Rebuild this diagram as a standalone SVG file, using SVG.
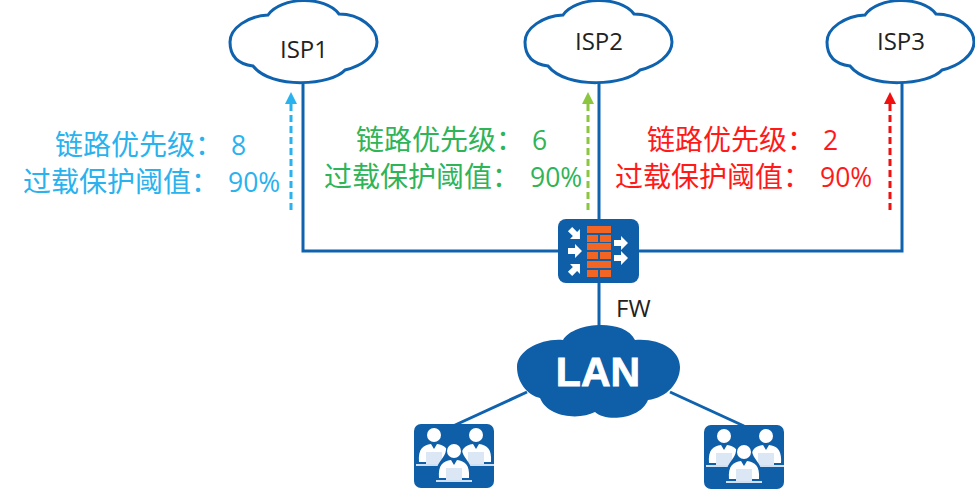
<svg xmlns="http://www.w3.org/2000/svg" xmlns:xlink="http://www.w3.org/1999/xlink" width="975" height="490" viewBox="0 0 975 490">
<style>
text{font-family:"Noto Sans CJK SC","Noto Sans",sans-serif}
.isp{font-size:24px;fill:#222;text-anchor:middle;font-family:"Open Sans","Liberation Sans",sans-serif}
.cap{font-size:28px}
.val{font-family:"Open Sans","Liberation Sans",sans-serif;font-size:26.5px}
.blue{fill:#29b2ee}.green{fill:#2fb457}.red{fill:#ff1a1a}
.link{fill:none;stroke:#0f62ae;stroke-width:3}
.dash{fill:none;stroke-width:3;stroke-dasharray:7 4}
.cloud{fill:#fff;stroke:#0f62ae;stroke-width:3}
.w{fill:#fff}.br{fill:#f26522}
.box{fill:#0f5ea8}
</style>
<defs>
<path id="cloud" class="cloud" d="M48,15C60,-3 105,-5 119,14C140,14 157,28 157,42C157,55 142,66 125,70C112,85 52,90 33,66C17,64 10,55 10,42C10,28 28,16 48,15Z"/>
<marker id="aB" markerWidth="12" markerHeight="12" refX="5" refY="5" orient="auto" markerUnits="userSpaceOnUse" viewBox="0 0 10 10"><path d="M0,0L10,5L0,10Z" fill="#29b2ee"/></marker>
<marker id="aG" markerWidth="12" markerHeight="12" refX="5" refY="5" orient="auto" markerUnits="userSpaceOnUse" viewBox="0 0 10 10"><path d="M0,0L10,5L0,10Z" fill="#8cc63f"/></marker>
<marker id="aR" markerWidth="12" markerHeight="12" refX="5" refY="5" orient="auto" markerUnits="userSpaceOnUse" viewBox="0 0 10 10"><path d="M0,0L10,5L0,10Z" fill="#f01010"/></marker>
<g id="person"><circle cx="0" cy="-30" r="7" class="w"/><path class="w" d="M-15,-3C-16,-16 -11,-20 -3,-21L0,-16L3,-21C11,-20 16,-16 15,-3Z"/><rect x="-8" y="-13" width="16" height="12" fill="#dbe7f4"/><rect x="-18" y="-1" width="36" height="2" fill="#cfe0f2"/></g>
<g id="people"><rect x="0" y="0" width="80" height="64" rx="7" class="box"/><use xlink:href="#person" x="20" y="41"/><use xlink:href="#person" x="62" y="41"/><path class="box" d="M23,56V44C25,36 31,34 32,26C33,16 47,16 48,26C49,34 55,36 57,44V56Z"/><use xlink:href="#person" x="40" y="57"/></g>
<path id="wa" class="w" d="M-7,-3H0V-7L7,0L0,7V3H-7Z"/>
</defs>
<g id="connectors">
<path class="link" d="M303,83V251H902V83"/>
<path class="link" d="M599,83V325"/>
<path class="link" d="M527,392L453,426"/>
<path class="link" d="M670,392L744,426"/>
<path class="dash" stroke="#29b2ee" d="M291,210V98" marker-end="url(#aB)"/>
<path class="dash" stroke="#8cc63f" d="M588,210V98" marker-end="url(#aG)"/>
<path class="dash" stroke="#f01010" d="M890,210V98" marker-end="url(#aR)"/>
</g>
<g id="isp1"><use xlink:href="#cloud" x="220"/><text class="isp" x="304" y="58">ISP1</text></g>
<g id="isp2"><use xlink:href="#cloud" x="515"/><text class="isp" x="599" y="50">ISP2</text></g>
<g id="isp3"><use xlink:href="#cloud" x="817"/><text class="isp" x="901" y="50">ISP3</text></g>
<g id="label1" class="blue"><text class="cap" x="55" y="155">链路优先级：<tspan class="val" x="231">8</tspan></text><text class="cap" x="23" y="192">过载保护阈值：<tspan class="val" x="228">90%</tspan></text></g>
<g id="label2" class="green"><text class="cap" x="356" y="150">链路优先级：<tspan class="val" x="532">6</tspan></text><text class="cap" x="324" y="187">过载保护阈值：<tspan class="val" x="530">90%</tspan></text></g>
<g id="label3" class="red"><text class="cap" x="647" y="150">链路优先级：<tspan class="val" x="823">2</tspan></text><text class="cap" x="615" y="187">过载保护阈值：<tspan class="val" x="820">90%</tspan></text></g>
<g id="fw">
<rect x="558" y="219" width="81" height="64" rx="8" class="box"/>
<g class="br"><rect x="587" y="226" width="24" height="7"/><rect x="587" y="235" width="11" height="7"/><rect x="600" y="235" width="11" height="7"/><rect x="587" y="243" width="24" height="7"/><rect x="587" y="252" width="11" height="7"/><rect x="600" y="252" width="11" height="7"/><rect x="587" y="261" width="24" height="7"/><rect x="587" y="270" width="11" height="7"/><rect x="600" y="270" width="11" height="7"/></g>
<use xlink:href="#wa" transform="translate(575,234) rotate(45)"/>
<use xlink:href="#wa" transform="translate(575,251)"/>
<use xlink:href="#wa" transform="translate(575,269) rotate(-45)"/>
<use xlink:href="#wa" transform="translate(621,243)"/>
<use xlink:href="#wa" transform="translate(621,258)"/>
<text x="616" y="317" font-size="24" fill="#222" style="font-family:'Open Sans','Liberation Sans',sans-serif">FW</text>
</g>
<g id="lan">
<path class="box" d="M563,340C573,322 625,318 635,340C660,338 680,350 680,367C680,382 667,398 648,400C640,420 605,422 595,412C580,420 548,418 540,398C527,395 517,382 517,367C517,350 542,338 563,340Z"/>
<text x="598" y="386" text-anchor="middle" font-size="41" font-weight="700" fill="#fff" stroke="#fff" stroke-width="0.8" style="font-family:'Liberation Sans',sans-serif">LAN</text>
</g>
<g id="users1" transform="translate(414,424)"><use xlink:href="#people"/></g>
<g id="users2" transform="translate(704,425)"><use xlink:href="#people"/></g>
</svg>
